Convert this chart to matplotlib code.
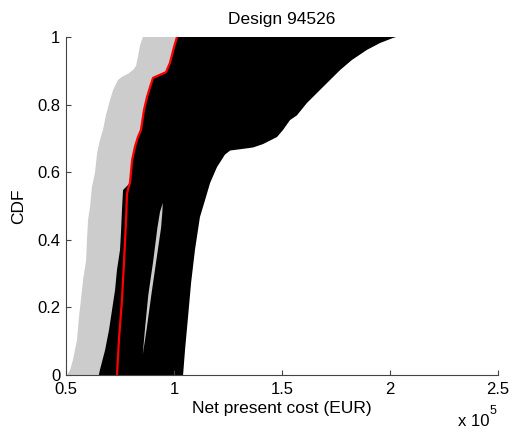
import numpy as np
import matplotlib
matplotlib.use("Agg")
import matplotlib.pyplot as plt

plt.rcParams['font.family'] = ['Liberation Sans', 'DejaVu Sans']

# net present cost in units of 1e5 EUR
gray_left_x = [0.505, 0.519, 0.532, 0.551, 0.560, 0.569, 0.579, 0.593, 0.597, 0.602, 0.611,
               0.620, 0.634, 0.644, 0.657, 0.671, 0.685, 0.704, 0.718, 0.741, 0.759, 0.787,
               0.810, 0.824, 0.833, 0.843, 0.856]
gray_left_y = [0.0, 0.015, 0.044, 0.104, 0.172, 0.222, 0.281, 0.340, 0.399, 0.459, 0.497,
               0.556, 0.598, 0.657, 0.695, 0.725, 0.769, 0.814, 0.843, 0.873, 0.882, 0.891,
               0.902, 0.914, 0.941, 0.976, 1.0]

# design shown in red
red_x = [0.736, 0.745, 0.759, 0.769, 0.778, 0.782, 0.787, 0.796, 0.806, 0.819, 0.833, 0.847,
         0.861, 0.875, 0.889, 0.903, 0.935, 0.963, 0.981, 1.0, 1.014]
red_y = [0.0, 0.104, 0.222, 0.340, 0.459, 0.533, 0.550, 0.568, 0.636, 0.675, 0.704, 0.725,
         0.784, 0.822, 0.852, 0.879, 0.888, 0.896, 0.923, 0.970, 1.0]

black_left_x = [0.652, 0.657, 0.681, 0.699, 0.713, 0.727, 0.736, 0.750, 0.755, 0.759, 0.764]
black_left_y = [0.0, 0.015, 0.074, 0.133, 0.192, 0.251, 0.311, 0.370, 0.429, 0.488, 0.547]

black_right_x = [1.042, 1.051, 1.065, 1.079, 1.097, 1.120, 1.144, 1.167, 1.199, 1.236, 1.26,
                 1.32, 1.366, 1.412, 1.477, 1.505, 1.537, 1.569, 1.616, 1.690, 1.769, 1.824,
                 1.894, 1.954, 2.014, 2.03]
black_right_y = [0.0, 0.074, 0.172, 0.272, 0.370, 0.467, 0.518, 0.568, 0.615, 0.652, 0.664,
                 0.669, 0.673, 0.683, 0.704, 0.725, 0.754, 0.768, 0.805, 0.852, 0.902, 0.932,
                 0.962, 0.982, 0.997, 1.0]

# thin gap between the black runs
gap_y = [0.059, 0.139, 0.237, 0.334, 0.435, 0.482, 0.509]
gap_left = [0.855, 0.866, 0.881, 0.903, 0.923, 0.935, 0.948]
gap_right = [0.855, 0.874, 0.895, 0.917, 0.940, 0.946, 0.948]

gray = '#cccccc'

fig = plt.figure(figsize=(5.13, 4.29), dpi=100)
ax = fig.add_axes([0.1287, 0.1259, 0.842, 0.788])

# gray runs
gx = np.r_[gray_left_x, red_x[::-1]]
gy = np.r_[gray_left_y, red_y[::-1]]
ax.fill(gx, gy, color=gray, lw=0)

# black runs: left edge follows the red curve above ~0.55
top = np.array(red_y) > 0.555
bl_x = np.r_[black_left_x, np.array(red_x)[top]]
bl_y = np.r_[black_left_y, np.array(red_y)[top]]
bx = np.r_[bl_x, black_right_x[::-1]]
by = np.r_[bl_y, black_right_y[::-1]]
ax.fill(bx, by, color='black', lw=0)

ax.fill(np.r_[gap_left, gap_right[::-1]], np.r_[gap_y, gap_y[::-1]], color=gray, lw=0)

ax.plot(red_x, red_y, color='red', lw=1.6)

ax.set_xlim(0.5, 2.5)
ax.set_ylim(0, 1)
ax.set_xticks([0.5, 1, 1.5, 2, 2.5])
ax.set_xticklabels(['0.5', '1', '1.5', '2', '2.5'])
ax.set_yticks([0, 0.2, 0.4, 0.6, 0.8, 1])
ax.set_yticklabels(['0', '0.2', '0.4', '0.6', '0.8', '1'])
ax.spines['top'].set_visible(False)
ax.spines['right'].set_visible(False)
for s in ['left', 'bottom']:
    ax.spines[s].set_color('#444444')
    ax.spines[s].set_linewidth(0.8)
ax.tick_params(direction='in', length=3.5, width=0.8, color='#444444', labelsize=12)
ax.tick_params(axis='x', pad=5)
ax.tick_params(axis='y', pad=4)

ax.set_title('Design 94526', fontsize=12.5, pad=9)
ax.set_xlabel('Net present cost (EUR)', fontsize=12.5, labelpad=3)
ax.set_ylabel('CDF', fontsize=12.5, labelpad=8)

fig.text(489 / 513, 1 - 426 / 429, 'x 10', ha='right', va='baseline', fontsize=12)
fig.text(490 / 513, 1 - 414 / 429, '5', ha='left', va='baseline', fontsize=9)

fig.savefig('out.png', dpi=100)
